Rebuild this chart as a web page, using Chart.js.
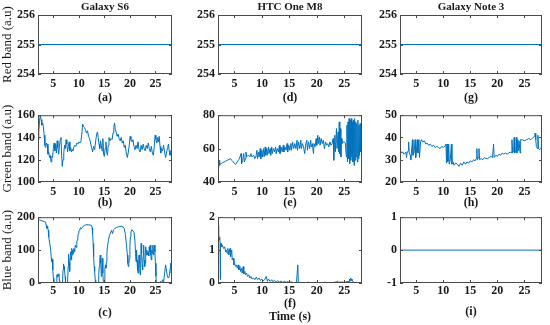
<!DOCTYPE html>
<html>
<head>
<meta charset="utf-8">
<script src="https://cdn.jsdelivr.net/npm/chart.js@4.4.1/dist/chart.umd.min.js"></script>
<style>
  html, body { margin: 0; padding: 0; background: #fff; }
  #wrap { position: relative; width: 550px; height: 325px; overflow: hidden; }
  #wrap canvas { position: absolute; }
</style>
</head>
<body>
<div id="wrap"></div>
<script>
// columns = phones, rows = colour bands
const devices = ['Galaxy S6', 'HTC One M8', 'Galaxy Note 3'];
const bandLabels = ['Red band (a.u)', 'Green band (a.u)', 'Blue band (a.u)'];
const panelLetters = [
  [['(a)'], ['(d)'], ['(g)']],
  [['(b)'], ['(e)'], ['(h)']],
  [['(c)'], ['(f)', 'Time (s)'], ['(i)']]
];
const xTicks = [5, 10, 15, 20, 25];
const xRange = [2, 28.25];
const yTicks = [
  [[254, 255, 256], [254, 255, 256], [254, 255, 256]],
  [[100, 120, 140, 160], [40, 60, 80], [20, 30, 40, 50]],
  [[0, 100, 200], [0, 1, 2], [-1, 0, 1]]
];

// [time (s), value]
const s6Red = [[2, 255], [28.25, 255]];
const htcRed = [[2, 255], [28.25, 255]];
const note3Red = [[2, 255], [28.25, 255]];
const note3Blue = [[2, 0], [28.25, 0]];

const s6Green = [[2.0,138],[2.15,145],[2.3,155],[2.45,160],[2.6,156],[2.75,151],[2.9,153],[3.05,150],[3.2,142],[3.35,133],[3.5,131],[3.65,135],[3.8,134],[3.95,125],[4.1,127],[4.25,122],[4.4,124],[4.55,118],[4.7,123],[4.85,122],[5.0,130],[5.15,135],[5.3,128],[5.45,134],[5.6,126],[5.75,137],[5.9,131],[6.05,125],[6.2,132],[6.35,138],[6.5,140],[6.6,128],[6.75,114],[6.9,120],[7.05,126],[7.2,133],[7.35,130],[7.5,138],[7.65,134],[7.8,127],[7.95,132],[8.1,136],[8.25,128],[8.4,131],[8.55,127],[8.7,129],[8.85,128],[9.0,131],[9.2,133],[9.4,132],[9.6,135],[9.8,134],[10.0,136],[10.2,135],[10.4,136],[10.6,144],[10.75,152],[10.9,150],[11.1,149],[11.3,147],[11.5,144],[11.7,146],[11.9,141],[12.1,139],[12.3,135],[12.5,131],[12.7,127],[12.9,132],[13.1,129],[13.3,137],[13.5,143],[13.65,145],[13.8,140],[13.95,134],[14.1,130],[14.25,137],[14.4,133],[14.55,128],[14.7,139],[14.85,125],[15.0,123],[15.15,130],[15.3,136],[15.45,127],[15.6,124],[15.75,133],[15.9,140],[16.1,137],[16.3,139],[16.5,138],[16.7,144],[16.85,149],[17.0,153],[17.15,147],[17.3,145],[17.5,141],[17.7,143],[17.9,139],[18.1,137],[18.3,140],[18.5,135],[18.7,137],[18.9,131],[19.1,133],[19.3,126],[19.5,122],[19.7,127],[19.9,134],[20.05,141],[20.2,138],[20.4,136],[20.6,138],[20.8,132],[21.0,129],[21.2,133],[21.4,130],[21.6,136],[21.8,129],[22.0,127],[22.2,133],[22.4,129],[22.6,134],[22.8,130],[23.0,128],[23.2,133],[23.4,130],[23.6,135],[23.8,130],[24.0,127],[24.2,132],[24.4,126],[24.6,124],[24.8,133],[24.95,142],[25.1,138],[25.3,135],[25.45,140],[25.6,136],[25.75,141],[25.9,132],[26.05,126],[26.2,130],[26.4,128],[26.6,133],[26.8,127],[27.0,122],[27.2,127],[27.4,131],[27.55,134],[27.7,128],[27.85,124],[28.0,126],[28.15,130],[28.25,129]];

const htcGreen = [[2.0,48],[2.05,42],[2.12,47],[2.2,53],[2.3,50],[2.5,51],[2.8,51.5],[3.1,52],[3.4,52.5],[3.7,53],[4.0,53.5],[4.3,54],[4.5,53],[4.8,52],[5.0,51],[5.2,50.5],[5.5,52],[5.8,53.5],[6.0,55],[6.2,57],[6.3,51],[6.5,53],[6.7,57],[6.8,52],[7.0,54],[7.1,58],[7.2,55],[7.5,56],[7.8,55],[8.0,57],[8.2,55],[8.5,56],[8.7,54],[8.9,55],[9.1,59],[9.2,54],[9.4,58],[9.5,55],[9.7,60],[9.8,54],[10.0,59],[10.1,55],[10.3,60],[10.4,55],[10.6,61],[10.7,56],[10.9,60],[11.0,56],[11.2,61],[11.3,57],[11.5,60],[11.6,56],[11.8,61],[11.9,57],[12.1,60],[12.3,58],[12.5,61],[12.6,57],[12.8,60],[13.0,58],[13.2,62],[13.3,57],[13.5,61],[13.7,58],[13.9,62],[14.0,58],[14.2,61],[14.4,59],[14.6,63],[14.7,58],[14.9,62],[15.1,59],[15.3,63],[15.4,59],[15.6,64],[15.8,60],[16.0,63],[16.2,60],[16.4,65],[16.5,59],[16.7,64],[16.9,60],[17.1,65],[17.2,60],[17.4,63],[17.6,61],[17.8,57],[18.0,63],[18.2,65],[18.3,59],[18.5,64],[18.7,60],[18.9,65],[19.0,61],[19.2,63],[19.4,57],[19.5,63],[19.7,61],[19.9,66],[20.0,62],[20.2,68],[20.3,63],[20.5,67],[20.6,62],[20.8,66],[21.0,63],[21.2,65],[21.4,60],[21.6,64],[21.8,62],[22.0,63],[22.2,61],[22.4,64],[22.6,62],[22.8,63],[23.0,66],[23.1,53],[23.3,68],[23.4,58],[23.6,72],[23.7,60],[23.9,70],[24.0,58],[24.1,76],[24.2,57],[24.3,72],[24.4,55],[24.5,66],[24.6,63],[24.8,64],[25.0,64],[25.2,63.5],[25.4,55],[25.5,74],[25.6,52],[25.7,76],[25.8,54],[25.9,78],[26.0,51],[26.1,77],[26.2,53],[26.3,78],[26.4,55],[26.5,76],[26.6,52],[26.7,77],[26.8,50],[26.9,78],[27.0,53],[27.1,76],[27.2,55],[27.3,75],[27.4,52],[27.5,77],[27.6,54],[27.7,74],[27.8,56],[27.9,75],[28.0,58],[28.1,74],[28.2,60]];

const note3Green = [[2.0,35],[2.1,34],[2.3,33],[2.5,33.5],[2.7,32.5],[2.9,33],[3.1,33.5],[3.2,31],[3.3,33],[3.5,34],[3.6,38],[3.7,33],[3.9,32],[4.0,30],[4.1,33],[4.3,39],[4.4,32],[4.6,33],[4.8,39],[4.9,31],[5.0,33],[5.2,39],[5.3,33],[5.5,39],[5.6,31],[5.8,38],[6.0,39],[6.2,38],[6.5,38.5],[6.8,37],[7.0,37.5],[7.3,36.5],[7.6,37],[7.9,36],[8.2,36.5],[8.5,35.5],[8.8,36],[9.1,35.5],[9.4,35],[9.7,36],[10.0,35.5],[10.3,36],[10.5,37],[10.6,28.5],[10.7,37],[10.8,29],[10.9,29.5],[11.0,37],[11.1,28],[11.3,30],[11.5,37],[11.6,28],[11.8,29],[12.0,27.5],[12.3,28.5],[12.6,28],[12.9,27],[13.2,28.5],[13.5,27.5],[13.8,29],[14.1,28],[14.4,29],[14.7,28.5],[15.0,29.5],[15.3,29],[15.6,30],[15.9,29.5],[16.1,30.5],[16.2,35],[16.3,30],[16.5,31],[16.6,35],[16.7,30],[17.0,30.5],[17.3,30],[17.6,31],[17.9,30.5],[18.2,30.5],[18.5,31],[18.8,31.5],[19.1,31],[19.3,37],[19.4,31],[19.7,32],[20.0,31.5],[20.3,32.5],[20.6,32],[20.9,33],[21.2,32.5],[21.5,33],[21.8,32.5],[22.1,33],[22.4,33.5],[22.6,33],[22.7,39],[22.8,33],[23.0,34],[23.1,40],[23.2,33],[23.4,34],[23.5,40],[23.6,33],[23.8,39],[23.9,34],[24.0,38.5],[24.2,33],[24.3,39],[24.6,39],[25.0,38.5],[25.4,39],[25.8,39.5],[26.2,39],[26.6,40],[26.9,40.5],[27.0,42],[27.1,39],[27.2,36],[27.4,35],[27.5,41],[27.6,35],[27.8,34.5],[28.0,35],[28.2,36]];

const s6Blue = [[2.0,190],[2.3,192],[2.6,190],[2.9,188],[3.2,187],[3.5,185],[3.6,175],[3.7,166],[3.8,172],[3.9,168],[4.0,160],[4.1,140],[4.3,120],[4.5,100],[4.6,75],[4.7,65],[4.8,72],[4.9,40],[5.0,15],[5.1,0],[5.6,0],[5.7,25],[5.8,18],[5.9,27],[6.0,22],[6.1,28],[6.2,5],[6.3,0],[6.8,0],[6.9,40],[7.0,58],[7.1,50],[7.2,40],[7.3,20],[7.4,0],[7.8,0],[7.9,50],[8.0,88],[8.1,60],[8.2,35],[8.3,75],[8.4,95],[8.5,70],[8.6,105],[8.7,85],[8.8,100],[8.9,90],[9.0,105],[9.2,95],[9.3,115],[9.5,108],[9.6,125],[9.7,130],[9.8,140],[9.9,150],[10.0,158],[10.2,160],[10.3,168],[10.5,165],[10.8,172],[11.1,175],[11.4,177],[11.8,177],[12.2,176],[12.5,175],[12.6,168],[12.7,150],[12.8,120],[12.9,80],[13.0,50],[13.1,35],[13.2,10],[13.3,0],[13.8,0],[13.9,25],[14.0,50],[14.1,70],[14.2,85],[14.3,60],[14.4,20],[14.5,45],[14.6,75],[14.7,30],[14.8,0],[15.0,0],[15.1,40],[15.2,55],[15.3,45],[15.4,65],[15.5,90],[15.6,110],[15.8,130],[16.0,145],[16.2,152],[16.4,160],[16.6,150],[16.8,162],[17.0,165],[17.3,168],[17.6,170],[18.0,172],[18.4,172],[18.7,170],[18.9,165],[19.1,150],[19.3,120],[19.5,85],[19.6,60],[19.7,50],[19.8,60],[19.9,75],[20.0,110],[20.1,140],[20.2,155],[20.4,162],[20.6,158],[20.8,155],[21.0,125],[21.1,90],[21.2,65],[21.3,100],[21.4,70],[21.5,40],[21.6,30],[21.7,55],[21.8,85],[21.9,60],[22.0,25],[22.1,40],[22.2,120],[22.3,90],[22.4,55],[22.5,40],[22.6,80],[22.7,115],[22.8,70],[22.9,50],[23.0,60],[23.1,110],[23.2,85],[23.3,100],[23.5,85],[23.6,95],[23.7,82],[23.8,110],[23.9,95],[24.0,115],[24.1,85],[24.2,70],[24.3,100],[24.4,90],[24.5,115],[24.6,85],[24.7,100],[24.8,115],[24.9,95],[25.0,60],[25.1,20],[25.2,0],[25.8,0],[26.0,5],[26.2,0],[26.4,10],[26.6,0],[26.8,30],[27.0,55],[27.1,45],[27.3,25],[27.5,15],[27.7,20],[27.9,45],[28.0,60],[28.1,30],[28.25,65]];

const htcBlue = [[2.0,1.5],[2.07,1.75],[2.12,1.55],[2.17,1.35],[2.22,1.4],[2.28,1.3],[2.33,1.35],[2.38,1.2],[2.42,0.1],[2.46,1.15],[2.55,1.2],[2.65,1.1],[2.8,1.15],[3.0,1.05],[3.2,1.1],[3.4,0.95],[3.5,1.0],[3.7,0.9],[3.8,1.05],[4.0,0.85],[4.1,1.0],[4.2,1.05],[4.3,0.8],[4.4,0.95],[4.5,1.0],[4.6,0.7],[4.8,0.75],[4.9,0.55],[5.0,0.6],[5.2,0.5],[5.4,0.55],[5.5,0.45],[5.7,0.55],[5.8,0.4],[6.0,0.5],[6.1,0.35],[6.3,0.45],[6.4,0.3],[6.6,0.5],[6.7,0.28],[6.9,0.35],[7.0,0.25],[7.2,0.3],[7.4,0.2],[7.6,0.25],[7.8,0.15],[8.0,0.2],[8.2,0.12],[8.5,0.15],[8.7,0.1],[9.0,0.18],[9.2,0.1],[9.5,0.15],[9.7,0.08],[10.0,0.12],[10.2,0.06],[10.5,0.1],[10.8,0.2],[11.0,0.05],[11.2,0.12],[11.5,0.05],[11.8,0.1],[12.0,0.04],[12.3,0.08],[12.6,0.03],[12.9,0.07],[13.2,0.03],[13.5,0.06],[13.8,0.02],[14.1,0.05],[14.4,0.02],[14.7,0.04],[15.0,0.02],[15.4,0.03],[15.8,0.01],[16.3,0.02],[16.55,0.55],[16.65,0.01],[17.0,0.02],[17.5,0.01],[18.5,0.02],[19.5,0.01],[20.5,0.01],[21.5,0.02],[22.5,0.01],[23.2,0.02],[23.6,0.04],[23.8,0.06],[24.0,0.02],[24.5,0.03],[25.0,0.02],[25.5,0.04],[25.9,0.05],[26.0,0.12],[26.1,0.06],[26.2,0.15],[26.3,0.08],[26.4,0.12],[26.6,0.04],[26.8,0.02],[27.2,0.01],[27.8,0.01],[28.25,0.01]];

const series = [
  [s6Red, htcRed, note3Red],
  [s6Green, htcGreen, note3Green],
  [s6Blue, htcBlue, note3Blue]
];

// page geometry (px)
const plotLeft = [38, 218, 400], plotRight = [172, 362, 542];
const plotTop = [15, 113, 215], plotBottom = [74, 182, 283];
const axisW = [38, 40, 40];
const canvasBottom = [106, 211, 325];

Chart.defaults.font.family = "'Liberation Serif', 'DejaVu Serif', serif";
Chart.defaults.color = '#1a1a1a';

const framePlugin = {
  id: 'frame',
  afterDatasetsDraw(chart) {
    const { ctx, chartArea: a, scales } = chart;
    ctx.save();
    ctx.strokeStyle = '#4a4a4a';
    ctx.lineWidth = 1;
    ctx.beginPath();
    scales.x.ticks.forEach(t => {
      const px = Math.round(scales.x.getPixelForValue(t.value)) + 0.5;
      ctx.moveTo(px, a.bottom); ctx.lineTo(px, a.bottom - 3);
      ctx.moveTo(px, a.top); ctx.lineTo(px, a.top + 3);
    });
    scales.y.ticks.forEach(t => {
      const py = Math.round(scales.y.getPixelForValue(t.value)) + 0.5;
      ctx.moveTo(a.left, py); ctx.lineTo(a.left + 3, py);
      ctx.moveTo(a.right, py); ctx.lineTo(a.right - 3, py);
    });
    ctx.stroke();
    ctx.strokeRect(a.left + 0.5, a.top + 0.5, a.right - a.left - 1, a.bottom - a.top - 1);
    ctx.restore();
  }
};

const wrap = document.getElementById('wrap');

for (let r = 0; r < 3; r++) {
  for (let c = 0; c < 3; c++) {
    const topPad = r === 0 ? 0 : 8;
    const left = plotLeft[c] - axisW[c];
    const top = r === 0 ? 0 : plotTop[r] - topPad;
    const width = plotRight[c] + 4 - left;
    const height = canvasBottom[r] - top;
    const xAxisH = canvasBottom[r] - plotBottom[r];

    const canvas = document.createElement('canvas');
    canvas.width = width;
    canvas.height = height;
    canvas.style.left = left + 'px';
    canvas.style.top = top + 'px';
    wrap.appendChild(canvas);

    const letters = panelLetters[r][c];
    const twoLine = letters.length > 1;
    let titlePadBottom = 0.8;
    if (r === 2) titlePadBottom = twoLine ? 1.4 : (c === 2 ? 5.8 : 4.8);
    const yT = yTicks[r][c];

    new Chart(canvas, {
      type: 'line',
      data: {
        datasets: [{
          data: series[r][c].map(([x, y]) => ({ x, y })),
          borderColor: '#0072BD',
          borderWidth: 1,
          pointRadius: 0,
          tension: 0,
          fill: false
        }]
      },
      options: {
        responsive: false,
        animation: false,
        devicePixelRatio: 1,
        layout: { padding: { top: topPad, right: 4, left: 0, bottom: 0 } },
        plugins: {
          legend: { display: false },
          tooltip: { enabled: false },
          title: {
            display: r === 0,
            text: devices[c],
            fullSize: false,
            font: { size: 11, weight: 'bold', lineHeight: 1.2 },
            padding: { top: 1, bottom: 0.8 }
          }
        },
        scales: {
          x: {
            type: 'linear',
            min: xRange[0],
            max: xRange[1],
            grid: { display: false, drawTicks: false },
            border: { display: false },
            afterBuildTicks: s => { s.ticks = xTicks.map(v => ({ value: v })); },
            afterFit: s => { s.height = xAxisH; },
            ticks: {
              autoSkip: false,
              maxRotation: 0,
              padding: r === 2 ? 1 : 3,
              font: { size: 12, weight: 'bold', lineHeight: 1.2 }
            },
            title: {
              display: true,
              text: letters,
              font: { size: 12, weight: 'bold', lineHeight: twoLine ? 1.1 : 1.2 },
              padding: { top: 0, bottom: titlePadBottom }
            }
          },
          y: {
            min: yT[0],
            max: yT[yT.length - 1],
            grid: { display: false, drawTicks: false },
            border: { display: false },
            afterBuildTicks: s => { s.ticks = yT.map(v => ({ value: v })); },
            afterFit: s => { s.width = axisW[c]; },
            ticks: {
              autoSkip: false,
              padding: 3,
              font: { size: 12, weight: 'bold', lineHeight: 1.2 }
            },
            title: {
              display: c === 0,
              text: bandLabels[r],
              font: { size: 13, lineHeight: 1.2 },
              padding: { top: 0, bottom: 0 }
            }
          }
        }
      },
      plugins: [framePlugin]
    });
  }
}
</script>
</body>
</html>
